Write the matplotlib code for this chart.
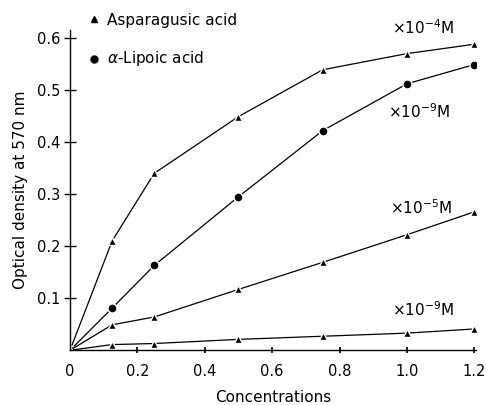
import matplotlib
matplotlib.use("Agg")
import matplotlib.pyplot as plt
from matplotlib.lines import Line2D

conc = [0, 0.125, 0.25, 0.5, 0.75, 1.0, 1.2]
asp_e4 = [0, 0.21, 0.34, 0.449, 0.539, 0.57, 0.588]
lip_e9 = [0, 0.081, 0.163, 0.295, 0.422, 0.512, 0.549]
asp_e5 = [0, 0.049, 0.064, 0.117, 0.169, 0.222, 0.266]
asp_e9 = [0, 0.011, 0.013, 0.021, 0.027, 0.033, 0.041]
xticks = [0, 0.2, 0.4, 0.6, 0.8, 1.0, 1.2]
xticklabels = ["0", "0.2", "0.4", "0.6", "0.8", "1.0", "1.2"]
yticks = [0.1, 0.2, 0.3, 0.4, 0.5, 0.6]
yticklabels = ["0.1", "0.2", "0.3", "0.4", "0.5", "0.6"]

W, H = 486, 405
fig = plt.figure(figsize=(W / 100, H / 100), dpi=100)
x0, x1, ytop, ybot = 70, 476, 30, 350.3
ax = fig.add_axes([x0 / W, 1 - ybot / H, (x1 - x0) / W, (ybot - ytop) / H])

lw = 0.9
kw = dict(color="black", lw=lw, mec="white", mew=1.0, mfc="black")
ax.plot(conc, asp_e4, marker="^", ms=6, **kw)
ax.plot(conc, lip_e9, marker="o", ms=6.5, **kw)
ax.plot(conc, asp_e5, marker="^", ms=6, **kw)
ax.plot(conc, asp_e9, marker="^", ms=6, **kw)

ax.set_xlim(0, 1.205)
ax.set_ylim(0, (ybot - ytop) / 520.5)
for s in ["top", "right"]:
    ax.spines[s].set_visible(False)
for s in ["left", "bottom"]:
    ax.spines[s].set_linewidth(1.0)

ax.set_xticks(xticks[1:])
ax.set_xticklabels(xticklabels[1:], fontsize=10.5)
ax.set_yticks(yticks)
ax.set_yticklabels(yticklabels, fontsize=10.5)
ax.tick_params(axis="y", direction="inout", length=8, width=1, pad=3)
ax.tick_params(axis="x", direction="inout", length=4, width=1.2, pad=8)
fig.text(70 / W, 1 - 372 / H, "0", fontsize=10.5, ha="center", va="center")

ax.set_xlabel("Concentrations", fontsize=11, labelpad=8)
ax.set_ylabel("Optical density at 570 nm", fontsize=11, labelpad=6)

def ft(x, y, s, **k):
    fig.text(x / W, 1 - y / H, s, fontsize=11, va="center", **k)

ft(392, 28, r"$\times10^{-4}$M")
ft(388, 112, r"$\times10^{-9}$M")
ft(390, 208, r"$\times10^{-5}$M")
ft(392, 310, r"$\times10^{-9}$M")

fig.lines.append(Line2D([94 / W], [1 - 19 / H], marker="^", ms=5, color="black",
                        transform=fig.transFigure))
fig.lines.append(Line2D([94 / W], [1 - 59 / H], marker="o", ms=5, color="black",
                        transform=fig.transFigure))
ft(107, 20, "Asparagusic acid")
ft(107, 58, r"$\alpha$-Lipoic acid")

fig.savefig("out.png", dpi=100)
